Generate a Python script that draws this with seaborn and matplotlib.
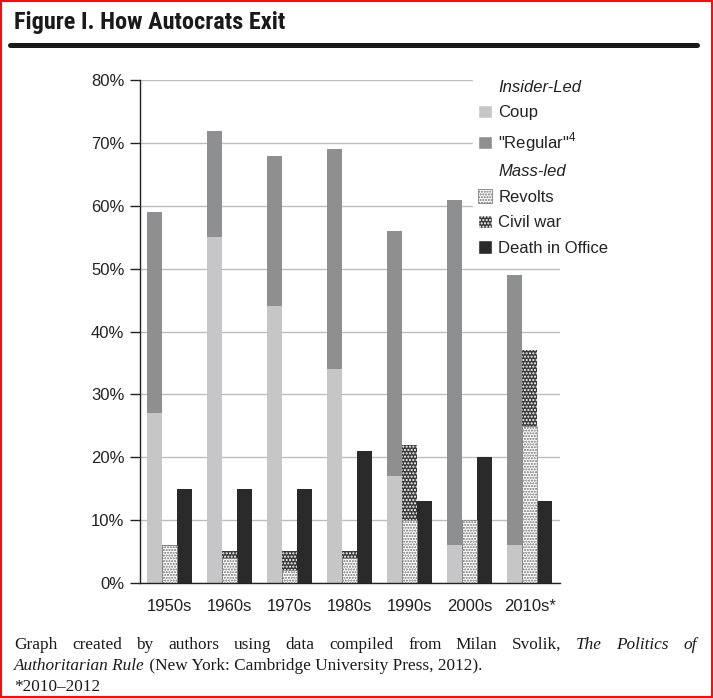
import pandas as pd
import matplotlib.pyplot as plt
import seaborn as sns
from matplotlib import font_manager
from matplotlib.patches import Patch, Rectangle
from matplotlib.lines import Line2D


decades = ['1950s', '1960s', '1970s', '1980s', '1990s', '2000s', '2010s*']
coup = [27, 55, 44, 34, 17, 6, 6]
regular = [32, 17, 24, 35, 39, 55, 43]
revolts = [6, 4, 2, 4, 10, 10, 25]
civil_war = [0, 1, 3, 1, 12, 0, 12]
death = [15, 15, 15, 21, 13, 20, 13]

slots = ['insider', 'mass', 'death']
c_coup = '#c6c6c8'
c_regular = '#8e8f91'
c_civil = '#3a3a3a'
c_death = '#2b2a2b'
c_dots = '#6e6e6e'

sns.set_style('white')
plt.rcParams['font.family'] = ['Liberation Sans', 'DejaVu Sans']
plt.rcParams['mathtext.fontset'] = 'custom'
plt.rcParams['mathtext.rm'] = 'Liberation Sans'
plt.rcParams['hatch.linewidth'] = 1.0

# back layer = stacked totals, front layer = lower segment
back = pd.DataFrame({
    'decade': decades * 3,
    'slot': [s for s in slots for _ in decades],
    'value': [c + r for c, r in zip(coup, regular)]
             + [v + w for v, w in zip(revolts, civil_war)]
             + death,
})
front = pd.DataFrame({
    'decade': decades * 2,
    'slot': [s for s in slots[:2] for _ in decades],
    'value': coup + revolts,
})

fig = plt.figure(figsize=(7.13, 6.98), dpi=100)
ax = fig.add_axes([0.196, 0.165, 0.589, 0.72])

sns.barplot(data=back, x='decade', y='value', hue='slot', hue_order=slots,
            palette=[c_regular, c_civil, c_death], width=0.75, saturation=1,
            linewidth=0, legend=False, ax=ax)
sns.barplot(data=front, x='decade', y='value', hue='slot', hue_order=slots,
            palette=[c_coup, 'white', 'white'], width=0.75, saturation=1,
            linewidth=0, legend=False, ax=ax)

# civil war: dark with white dots
for bar in ax.containers[1]:
    bar.set_hatch('.....')
    bar.set_edgecolor('white')
# revolts: white with grey dots
for bar in ax.containers[4]:
    bar.set_hatch('......')
    bar.set_edgecolor(c_dots)
    bar.set_linewidth(0.4)

ax.set_ylim(0, 80)
ax.set_xlim(-0.5, len(decades) - 0.5)
ax.set_yticks(range(0, 81, 10))
ax.set_yticklabels([f'{v}%' for v in range(0, 81, 10)])
ax.set_xticks(range(len(decades)))
ax.set_xticks([i - 0.5 for i in range(len(decades) + 1)], minor=True)
ax.tick_params(axis='x', which='major', length=0, labelsize=12, pad=12, colors='#222222')
ax.tick_params(axis='x', which='minor', length=7, width=1, color='#222222', direction='out')
ax.tick_params(axis='y', length=7, width=1, color='#222222', labelsize=12, pad=4,
               left=True, labelcolor='#222222')
ax.set_xlabel('')
ax.set_ylabel('')
ax.yaxis.grid(True, color='#bdbdbd', linewidth=1)
ax.set_axisbelow(True)
for side in ['top', 'right']:
    ax.spines[side].set_visible(False)
for side in ['left', 'bottom']:
    ax.spines[side].set_color('#222222')
    ax.spines[side].set_linewidth(1)

blank = Patch(facecolor='none', edgecolor='none')
handles = [
    blank,
    Patch(facecolor=c_coup),
    Patch(facecolor=c_regular),
    blank,
    Patch(facecolor='white', edgecolor=c_dots, hatch='......', linewidth=0.5),
    Patch(facecolor=c_civil, edgecolor='white', hatch='.....'),
    Patch(facecolor=c_death),
]
labels = ['Insider-Led', 'Coup', '"Regular"$^{4}$', 'Mass-led', 'Revolts', 'Civil war',
          'Death in Office']
leg = fig.legend(handles, labels, loc='upper left', bbox_to_anchor=(0.652, 0.905),
                 frameon=True, fancybox=False, framealpha=1, edgecolor='white',
                 fontsize=12, handlelength=0.85, handleheight=0.85, handletextpad=0.35,
                 labelspacing=0.6, borderpad=0.3)
for i in (0, 3):
    leg.get_texts()[i].set_style('italic')
for t in leg.get_texts():
    t.set_color('#222222')

# title: pick a condensed bold face if one is installed
names = {f.name for f in font_manager.fontManager.ttflist}
title_family = 'Liberation Sans'
for cand in ['Roboto Condensed', 'Liberation Sans Narrow', 'Open Sans Condensed']:
    if cand in names:
        title_family = cand
        break
fig.canvas.draw()
renderer = fig.canvas.get_renderer()
title = fig.text(14 / 713, 1 - 22 / 698, 'Figure I. How Autocrats Exit',
                 family=title_family, fontweight='bold', fontsize=17.5,
                 va='center', ha='left', color='#1a1a1a')
tw = title.get_window_extent(renderer=renderer).width
if tw > 290:
    title.set_fontsize(17.5 * 270 / tw)
fig.add_artist(Line2D([10 / 713, 697 / 713], [1 - 45 / 698] * 2, color='#1a1a1a',
                      linewidth=3.6, transform=fig.transFigure))

# footer, first line justified word by word
serif = ['Liberation Serif', 'DejaVu Serif']
fsize = 12.4
line1 = [(w, 'normal') for w in
         'Graph created by authors using data compiled from Milan Svolik,'.split()]
line1 += [('The', 'italic'), ('Politics', 'italic'), ('of', 'italic')]
texts = []
total = 0
for w, style in line1:
    t = fig.text(0, 0, w, family=serif, style=style, fontsize=fsize,
                 va='baseline', ha='left', color='#1a1a1a')
    width = t.get_window_extent(renderer=renderer).width
    texts.append((t, width))
    total += width
gap = (697 - 14 - total) / (len(texts) - 1)
x = 14
for t, width in texts:
    t.set_position((x / 713, 1 - 649 / 698))
    x += width + gap

rest = [
    [('Authoritarian Rule', 'italic'),
     (' (New York: Cambridge University Press, 2012).', 'normal')],
    [('*2010\u20132012', 'normal')],
]
for row, parts in enumerate(rest):
    x = 14
    y = 1 - (670 + row * 21) / 698
    for txt, style in parts:
        t = fig.text(x / 713, y, txt, family=serif, style=style, fontsize=fsize,
                     va='baseline', ha='left', color='#1a1a1a')
        x += t.get_window_extent(renderer=renderer).width

fig.add_artist(Rectangle((0, 0), 1, 1, transform=fig.transFigure, fill=False,
                         edgecolor='#ee1111', linewidth=3))

fig.savefig('out.png', dpi=100)
